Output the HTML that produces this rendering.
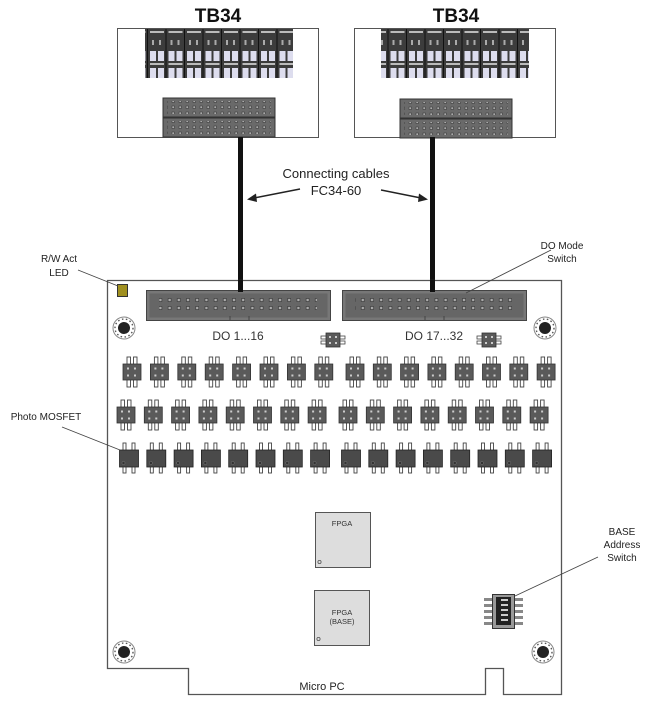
<!DOCTYPE html>
<html><head><meta charset="utf-8"><style>
html,body{margin:0;padding:0;background:#fff;}
svg{display:block;font-family:"Liberation Sans",Arial,sans-serif;}
</style></head><body>
<svg width="649" height="715" viewBox="0 0 649 715" xmlns="http://www.w3.org/2000/svg">
<defs>
<pattern id="pins" x="0" y="0" width="9.2" height="8" patternUnits="userSpaceOnUse">
<rect x="2.5" y="2.5" width="3" height="3" fill="#aaa" stroke="#333" stroke-width="0.6"/>
</pattern>
<pattern id="pins2" x="0" y="0" width="7" height="6" patternUnits="userSpaceOnUse">
<rect x="2" y="2" width="2.4" height="2.4" fill="#aaa" stroke="#333" stroke-width="0.5"/>
</pattern>
<pattern id="term" x="0" y="0" width="18.5" height="49" patternUnits="userSpaceOnUse">
<rect x="0" y="0" width="18.5" height="49" fill="#3c3c3c"/>
<rect x="2" y="2" width="6" height="10" fill="#dde"/>
<rect x="10" y="2" width="6" height="10" fill="#dde"/>
<rect x="2" y="14" width="14" height="2" fill="#bbb"/>
<rect x="2" y="19" width="6" height="10" fill="#dde"/>
<rect x="10" y="19" width="6" height="10" fill="#dde"/>
<rect x="2" y="31" width="14" height="2" fill="#bbb"/>
<rect x="4" y="40" width="2" height="5" fill="#aaa"/>
<rect x="11" y="40" width="2" height="5" fill="#aaa"/>
<rect x="17.5" y="0" width="1" height="49" fill="#111"/>
</pattern>
<g id="sw">
<rect x="-5" y="-15" width="3.5" height="30" fill="#fff" stroke="#444" stroke-width="0.9"/>
<rect x="1.5" y="-15" width="3.5" height="30" fill="#fff" stroke="#444" stroke-width="0.9"/>
<rect x="-9" y="-8" width="18" height="16" fill="#5a5a5a" stroke="#333" stroke-width="0.8"/>
<rect x="-5" y="-4.5" width="2" height="2" fill="#ccc"/>
<rect x="2" y="-4.5" width="2" height="2" fill="#ccc"/>
<rect x="-5" y="2.5" width="2" height="2" fill="#ccc"/>
<rect x="2" y="2.5" width="2" height="2" fill="#ccc"/>
</g>
<g id="mos">
<rect x="-6" y="-15" width="3" height="30" fill="#fff" stroke="#444" stroke-width="0.9"/>
<rect x="3" y="-15" width="3" height="30" fill="#fff" stroke="#444" stroke-width="0.9"/>
<rect x="-9.5" y="-8" width="19" height="17" fill="#4a4a4a" stroke="#222" stroke-width="0.8"/>
<circle cx="-5.5" cy="5" r="1.6" fill="#333" stroke="#777" stroke-width="0.5"/>
</g>
<g id="hsw">
<rect x="-12" y="-4" width="24" height="3" fill="#fff" stroke="#444" stroke-width="0.8"/>
<rect x="-12" y="1" width="24" height="3" fill="#fff" stroke="#444" stroke-width="0.8"/>
<rect x="-7" y="-7" width="14" height="14" fill="#5a5a5a" stroke="#333" stroke-width="0.8"/>
<rect x="-4" y="-4" width="2" height="2" fill="#ccc"/><rect x="2" y="-4" width="2" height="2" fill="#ccc"/>
<rect x="-4" y="2" width="2" height="2" fill="#ccc"/><rect x="2" y="2" width="2" height="2" fill="#ccc"/>
</g>
<g id="hole">
<circle r="11" fill="#fff" stroke="#888" stroke-width="1"/>
<circle r="9" fill="none" stroke="#555" stroke-width="1.4" stroke-dasharray="1.5 2.5"/>
<circle r="6" fill="#222"/>
</g>
<g id="cab">
<rect x="0" y="0" width="112" height="19" fill="#6a6a6a" stroke="#333" stroke-width="1"/>
<rect x="4" y="3" width="104" height="13" fill="url(#pins2)"/>
</g>
</defs>

<text x="218" y="22" font-size="19" font-weight="bold" text-anchor="middle" fill="#111">TB34</text>
<text x="456" y="22" font-size="19" font-weight="bold" text-anchor="middle" fill="#111">TB34</text>

<rect x="117.5" y="28.5" width="201" height="109" fill="#fff" stroke="#555" stroke-width="1"/>
<rect x="145" y="29" width="148" height="49" fill="url(#term)"/>
<use href="#cab" x="163" y="98"/>
<use href="#cab" x="163" y="118"/>
<rect x="354.5" y="28.5" width="201" height="109" fill="#fff" stroke="#555" stroke-width="1"/>
<rect x="381" y="29" width="148" height="49" fill="url(#term)"/>
<use href="#cab" x="400" y="99"/>
<use href="#cab" x="400" y="119"/>

<rect x="238" y="137" width="5" height="155" fill="#111"/>
<rect x="430" y="137" width="5" height="155" fill="#111"/>

<text x="336" y="178" font-size="13" text-anchor="middle" fill="#222">Connecting cables</text>
<text x="336" y="195" font-size="13" text-anchor="middle" fill="#222">FC34-60</text>
<line x1="300" y1="189" x2="254" y2="198" stroke="#222" stroke-width="1.5"/>
<polygon points="247,199.5 256,193.5 257,202" fill="#222"/>
<line x1="381" y1="190" x2="421" y2="198" stroke="#222" stroke-width="1.5"/>
<polygon points="428,199.5 419,193.5 418,202" fill="#222"/>

<path d="M107.5 280.5 H561.5 V694.5 H503.5 V668.5 H485.5 V694.5 H188.5 V668.5 H107.5 Z" fill="#fff" stroke="#555" stroke-width="1.3"/>

<rect x="146.5" y="290.5" width="184" height="30" fill="#777" stroke="#444" stroke-width="1"/>
<rect x="149.5" y="293.5" width="178" height="24" fill="#666"/>
<rect x="159" y="296" width="158" height="16" fill="url(#pins)"/>
<line x1="230" y1="321" x2="230" y2="316" stroke="#444"/><line x1="249" y1="321" x2="249" y2="316" stroke="#444"/>
<rect x="342.5" y="290.5" width="184" height="30" fill="#777" stroke="#444" stroke-width="1"/>
<rect x="345.5" y="293.5" width="178" height="24" fill="#666"/>
<rect x="355" y="296" width="158" height="16" fill="url(#pins)"/>
<line x1="425" y1="321" x2="425" y2="316" stroke="#444"/><line x1="444" y1="321" x2="444" y2="316" stroke="#444"/>
<rect x="238" y="280" width="5" height="12" fill="#111"/>
<rect x="430" y="280" width="5" height="12" fill="#111"/>

<text x="238" y="340" font-size="12" text-anchor="middle" fill="#333">DO 1...16</text>
<text x="434" y="340" font-size="12" text-anchor="middle" fill="#333">DO 17...32</text>

<use href="#hsw" x="333" y="340"/>
<use href="#hsw" x="489" y="340"/>

<rect x="117.5" y="284.5" width="10" height="12" fill="#a09020" stroke="#333" stroke-width="1"/>

<use href="#hole" x="124" y="328"/>
<use href="#hole" x="545" y="328"/>
<use href="#hole" x="124" y="652"/>
<use href="#hole" x="543" y="652"/>

<use href="#sw" x="132" y="372"/><use href="#sw" x="159.4" y="372"/><use href="#sw" x="186.8" y="372"/><use href="#sw" x="214.2" y="372"/>
<use href="#sw" x="241.6" y="372"/><use href="#sw" x="269" y="372"/><use href="#sw" x="296.4" y="372"/><use href="#sw" x="323.8" y="372"/>
<use href="#sw" x="355" y="372"/><use href="#sw" x="382.3" y="372"/><use href="#sw" x="409.6" y="372"/><use href="#sw" x="436.9" y="372"/>
<use href="#sw" x="464.2" y="372"/><use href="#sw" x="491.5" y="372"/><use href="#sw" x="518.8" y="372"/><use href="#sw" x="546.1" y="372"/>
<use href="#sw" x="126" y="415"/><use href="#sw" x="153.3" y="415"/><use href="#sw" x="180.6" y="415"/><use href="#sw" x="207.9" y="415"/>
<use href="#sw" x="235.2" y="415"/><use href="#sw" x="262.5" y="415"/><use href="#sw" x="289.8" y="415"/><use href="#sw" x="317.1" y="415"/>
<use href="#sw" x="348" y="415"/><use href="#sw" x="375.3" y="415"/><use href="#sw" x="402.6" y="415"/><use href="#sw" x="429.9" y="415"/>
<use href="#sw" x="457.2" y="415"/><use href="#sw" x="484.5" y="415"/><use href="#sw" x="511.8" y="415"/><use href="#sw" x="539.1" y="415"/>
<use href="#mos" x="129" y="458"/><use href="#mos" x="156.3" y="458"/><use href="#mos" x="183.6" y="458"/><use href="#mos" x="210.9" y="458"/>
<use href="#mos" x="238.2" y="458"/><use href="#mos" x="265.5" y="458"/><use href="#mos" x="292.8" y="458"/><use href="#mos" x="320.1" y="458"/>
<use href="#mos" x="351" y="458"/><use href="#mos" x="378.3" y="458"/><use href="#mos" x="405.6" y="458"/><use href="#mos" x="432.9" y="458"/>
<use href="#mos" x="460.2" y="458"/><use href="#mos" x="487.5" y="458"/><use href="#mos" x="514.8" y="458"/><use href="#mos" x="542.1" y="458"/>

<rect x="315.5" y="512.5" width="55" height="55" fill="#ddd" stroke="#555" stroke-width="1"/>
<text x="342" y="526" font-size="7.5" text-anchor="middle" fill="#333">FPGA</text>
<circle cx="319.5" cy="562" r="1.6" fill="none" stroke="#555" stroke-width="0.8"/>
<rect x="314.5" y="590.5" width="55" height="55" fill="#ddd" stroke="#555" stroke-width="1"/>
<text x="342" y="615" font-size="7.5" text-anchor="middle" fill="#333">FPGA</text>
<text x="342" y="624" font-size="7.5" text-anchor="middle" fill="#333">(BASE)</text>
<circle cx="318.5" cy="639" r="1.6" fill="none" stroke="#555" stroke-width="0.8"/>

<rect x="484" y="597" width="39" height="30" fill="#fff"/>
<g fill="#888">
<rect x="484" y="598" width="8" height="3"/><rect x="484" y="604" width="8" height="3"/><rect x="484" y="610" width="8" height="3"/><rect x="484" y="616" width="8" height="3"/><rect x="484" y="622" width="8" height="3"/>
<rect x="515" y="598" width="8" height="3"/><rect x="515" y="604" width="8" height="3"/><rect x="515" y="610" width="8" height="3"/><rect x="515" y="616" width="8" height="3"/><rect x="515" y="622" width="8" height="3"/>
</g>
<rect x="492.5" y="594.5" width="22" height="34" fill="#999" stroke="#333" stroke-width="1"/>
<rect x="496" y="597" width="15" height="28" fill="#222"/>
<g fill="#ccc"><rect x="501" y="599" width="7" height="2"/><rect x="501" y="604" width="7" height="2"/><rect x="501" y="609" width="7" height="2"/><rect x="501" y="614" width="7" height="2"/><rect x="501" y="619" width="7" height="2"/></g>

<text x="59" y="262" font-size="10" text-anchor="middle" fill="#222">R/W Act</text>
<text x="59" y="276" font-size="10" text-anchor="middle" fill="#222">LED</text>
<line x1="78" y1="270" x2="118" y2="286" stroke="#444" stroke-width="0.9"/>
<text x="46" y="420" font-size="10" text-anchor="middle" fill="#222">Photo MOSFET</text>
<line x1="62" y1="427" x2="120" y2="450" stroke="#444" stroke-width="0.9"/>
<text x="562" y="249" font-size="10" text-anchor="middle" fill="#222">DO Mode</text>
<text x="562" y="262" font-size="10" text-anchor="middle" fill="#222">Switch</text>
<line x1="551" y1="250" x2="466" y2="293" stroke="#444" stroke-width="0.9"/>
<text x="622" y="535" font-size="10" text-anchor="middle" fill="#222">BASE</text>
<text x="622" y="548" font-size="10" text-anchor="middle" fill="#222">Address</text>
<text x="622" y="561" font-size="10" text-anchor="middle" fill="#222">Switch</text>
<line x1="598" y1="557" x2="515" y2="596" stroke="#444" stroke-width="0.9"/>
<text x="322" y="690" font-size="11" text-anchor="middle" fill="#222">Micro PC</text>
</svg>
</body></html>
